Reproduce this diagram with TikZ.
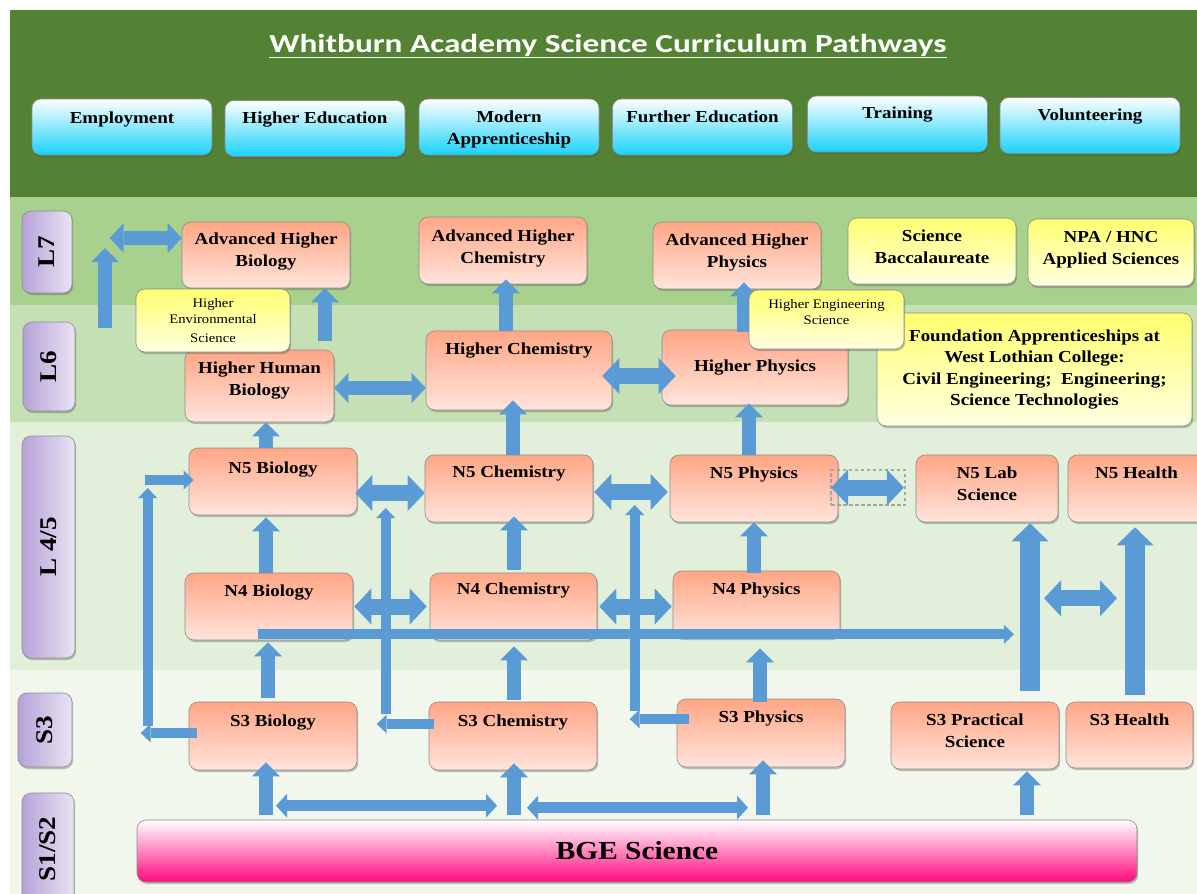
\documentclass[tikz,border=0pt]{standalone}
\usepackage{fontspec}
\usepackage{graphicx}
\setmainfont{Liberation Serif}[FakeStretch=1.13]
\newfontfamily\headfont{Carlito}[FakeStretch=1.28]
\usetikzlibrary{arrows.meta}
\usetikzlibrary{shadows}

\definecolor{hdrgreen}{HTML}{548235}
\definecolor{bandseven}{HTML}{A9D18E}
\definecolor{bandsix}{HTML}{C5E0B4}
\definecolor{bandfour}{HTML}{E2EFDA}
\definecolor{bandthree}{HTML}{F1F7ED}
\definecolor{pipeblue}{HTML}{5B9BD5}
\definecolor{crstop}{HTML}{FFA685}
\definecolor{crsbot}{HTML}{FFE4DC}
\definecolor{opttop}{HTML}{FFFF70}
\definecolor{optbot}{HTML}{FFFFE1}
\definecolor{destbot}{HTML}{19D2FA}
\definecolor{stageleft}{HTML}{B5A2D8}
\definecolor{stageright}{HTML}{E9E4F3}
\definecolor{bgepink}{HTML}{FF0A7E}

\newcommand\crsfont{\fontsize{16.8pt}{21.5pt}\selectfont\bfseries}
\newcommand\optsmallfont{\fontsize{13pt}{16pt}\selectfont}
\newcommand\stagefont{\fontsize{24pt}{28pt}\selectfont\bfseries}
\newcommand\bgefont{\fontsize{26pt}{30pt}\selectfont\bfseries}
\newcommand\pathtitlefont{\headfont\fontsize{26pt}{30pt}\selectfont\bfseries}

\tikzset{
    boxbase/.style={
        rounded corners=9pt,
        draw=black!45,
        semithick,
        align=center,
        inner sep=2pt,
        drop shadow={shadow xshift=1.2pt, shadow yshift=-2pt, opacity=.35, fill=black!70}
    },
    course/.style={
        boxbase,
        top color=crstop, bottom color=crsbot,
        font=\crsfont,
        minimum width=168pt, minimum height=67pt
    },
    option/.style={
        boxbase,
        top color=opttop, bottom color=optbot,
        font=\crsfont
    },
    dest/.style={
        boxbase,
        top color=white, bottom color=destbot,
        font=\crsfont,
        minimum width=180pt, minimum height=56pt
    },
    stage/.style={
        boxbase,
        left color=stageleft, right color=stageright,
        font=\stagefont
    },
    lift/.style={text height=12pt, text depth=#1},
    twolines/.style={text height=#1, text depth=3pt},
    pipe/.style={
        draw=pipeblue, line width=14pt,
        -{Triangle[width=28pt, length=14pt, line width=0pt]}
    },
    bigpipe/.style={
        draw=pipeblue, line width=20pt,
        -{Triangle[width=37pt, length=18pt, line width=0pt]}
    },
    thinpipe/.style={
        draw=pipeblue, line width=10pt,
        -{Triangle[width=19pt, length=10pt, line width=0pt]}
    },
    twopipe/.style={
        draw=pipeblue, line width=14pt,
        {Triangle[width=30pt, length=14pt, line width=0pt]}-{Triangle[width=30pt, length=14pt, line width=0pt]}
    },
    widepipe/.style={
        draw=pipeblue, line width=16pt,
        {Triangle[width=36pt, length=17pt, line width=0pt]}-{Triangle[width=36pt, length=17pt, line width=0pt]}
    },
    thintwopipe/.style={
        draw=pipeblue, line width=11pt,
        {Triangle[width=24pt, length=11pt, line width=0pt]}-{Triangle[width=24pt, length=11pt, line width=0pt]}
    }
}

\begin{document}
\begin{tikzpicture}[x=1pt, y=-1pt]
    \useasboundingbox (0,0) rectangle (1197,894);
    \clip (0,0) rectangle (1197,894);
    \fill[white] (0,0) rectangle (1197,894);
    \fill[hdrgreen] (10,10) rectangle (1197,197);
    \fill[bandseven] (10,197) rectangle (1197,305);
    \fill[bandsix] (10,305) rectangle (1197,422);
    \fill[bandfour] (10,422) rectangle (1197,670);
    \fill[bandthree] (10,670) rectangle (1197,894);

    \node[font=\pathtitlefont, text=white] (title) at (608,46) {\underline{Whitburn Academy Science Curriculum Pathways}};

    \node[dest, lift=20pt] (emp) at (122,127) {Employment};
    \node[dest, lift=23pt] (hed) at (315,128.5) {Higher Education};
    \node[dest, twolines=37pt] (mapp) at (509,127) {Modern\\Apprenticeship};
    \node[dest, lift=21pt] (fed) at (702.5,127) {Further Education};
    \node[dest, lift=24pt] (trn) at (897.5,124) {Training};
    \node[dest, lift=23pt] (vol) at (1090,125.5) {Volunteering};

    \node[stage, minimum width=50pt, minimum height=82pt] (lvlseven) at (47,252) {\rotatebox{90}{L7}};
    \node[stage, minimum width=52pt, minimum height=89pt] (lvlsix) at (49,366.5) {\rotatebox{90}{L6}};
    \node[stage, minimum width=53pt, minimum height=222pt] (lvlfour) at (48.5,547) {\rotatebox{90}{L 4/5}};
    \node[stage, minimum width=54pt, minimum height=74pt] (lvlthree) at (45,730) {\rotatebox{90}{S3}};
    \node[stage, minimum width=52pt, minimum height=112pt] (lvlone) at (48,849) {\rotatebox{90}{S1/S2}};

    \node[course, minimum height=66pt, twolines=25pt] (ahbio) at (266,255) {Advanced Higher\\Biology};
    \node[course, twolines=28pt] (ahchem) at (503,250.5) {Advanced Higher\\Chemistry};
    \node[course, twolines=26pt] (ahphys) at (737,255.5) {Advanced Higher\\Physics};
    \node[option, minimum width=168pt, minimum height=66pt, twolines=27pt] (bacc) at (932,251) {Science\\Baccalaureate};
    \node[option, minimum width=166pt, minimum height=67pt, twolines=26pt] (npa) at (1111,252.5) {NPA / HNC\\Applied Sciences};

    \node[course, minimum width=149pt, minimum height=72pt, twolines=21pt] (hhbio) at (259.5,386) {Higher Human\\Biology};
    \node[course, minimum width=186pt, minimum height=79pt, lift=45pt] (hchem) at (519,370.5) {Higher Chemistry};
    \node[course, minimum width=186pt, minimum height=75pt] (hphys) at (755,367.5) {Higher Physics};
    \node[option, minimum width=315pt, minimum height=113pt] (fapp) at (1034.5,369.5) {Foundation Apprenticeships at\\West Lothian College:\\Civil Engineering;~ Engineering;\\Science Technologies};
    \node[option, font=\optsmallfont, minimum width=154pt, minimum height=63pt] (hesci) at (213,320.5) {Higher\\Environmental\\[3pt]Science};

    \node[course, lift=29pt] (n5bio) at (273,481.5) {N5 Biology};
    \node[course, lift=35pt] (n5chem) at (509,488.5) {N5 Chemistry};
    \node[course, lift=33pt] (n5phys) at (754,488.5) {N5 Physics};
    \node[course, minimum width=142pt, twolines=26pt] (n5lab) at (987,488.5) {N5 Lab\\Science};
    \node[course, minimum width=137pt, lift=33pt] (n5hlth) at (1136.5,488.5) {N5 Health};
    \node[draw=black!35, line width=1.8pt, dash pattern=on 3.5pt off 2.5pt, minimum width=74pt, minimum height=35pt, inner sep=0pt] (dotbox) at (868,487.5) {};

    \node[course, lift=33pt] (n4bio) at (269,606.5) {N4 Biology};
    \node[course, minimum width=167pt, lift=37pt] (n4chem) at (513.5,606.5) {N4 Chemistry};
    \node[course, minimum width=167pt, lift=33pt] (n4phys) at (756.5,604.5) {N4 Physics};

    \node[course, minimum height=68pt, lift=32pt] (s3bio) at (273,736) {S3 Biology};
    \node[course, minimum height=68pt, lift=32pt] (s3chem) at (513,736) {S3 Chemistry};
    \node[course, minimum height=68pt, lift=34pt] (s3phys) at (761,733) {S3 Physics};
    \node[course, twolines=26pt] (s3prac) at (975,735.5) {S3 Practical\\Science};
    \node[course, minimum width=127pt, minimum height=66pt, lift=32pt] (s3hlth) at (1129.5,735) {S3 Health};

    \node[boxbase, top color=white, bottom color=bgepink, minimum width=1000pt, minimum height=62pt, font=\bgefont] (bge) at (637,851) {BGE Science};

    \coordinate (envroute) at (105,328);
    \draw[pipe] (envroute) -- ++(0,-80);
    \draw[twopipe] ([yshift=17pt]ahbio.west) -- ++(-72,0);
    \draw[pipe] ([xshift=65.5pt,yshift=9pt]hhbio.north) -- ([xshift=59pt]ahbio.south);
    \draw[pipe] ([xshift=-7pt]n5bio.north) -- ([xshift=6.5pt]hhbio.south);
    \draw[pipe] ([xshift=-13pt]hchem.north) -- ([xshift=3pt,yshift=5pt]ahchem.south);
    \draw[pipe] ([xshift=-11pt,yshift=-2pt]hphys.north) -- ([xshift=7pt,yshift=7pt]ahphys.south);
    \draw[pipe] ([xshift=4pt]n5chem.north) -- ([xshift=-6pt,yshift=10pt]hchem.south);
    \draw[pipe] ([xshift=-5pt]n5phys.north) -- ([xshift=-6pt,yshift=2pt]hphys.south);
    \draw[pipe] ([xshift=-3pt]n4bio.north) -- ([xshift=-7pt,yshift=-2pt]n5bio.south);
    \draw[pipe] ([xshift=.5pt,yshift=3pt]n4chem.north) -- ([xshift=5pt,yshift=6pt]n5chem.south);
    \draw[pipe] ([xshift=-2.5pt,yshift=-2pt]n4phys.north) -- (n5phys.south);
    \draw[pipe] ([xshift=-5pt,yshift=4pt]s3bio.north) -- ([xshift=-1pt,yshift=-2pt]n4bio.south);
    \draw[pipe] ([xshift=1pt,yshift=2pt]s3chem.north) -- ([xshift=.5pt,yshift=-6pt]n4chem.south);
    \draw[pipe] ([xshift=-1pt,yshift=-3pt]s3phys.north) -- ([xshift=3.5pt,yshift=-10pt]n4phys.south);
    \draw[pipe] ([xshift=-371pt,yshift=5pt]bge.north) -- ([xshift=-7pt,yshift=8pt]s3bio.south);
    \draw[pipe] ([xshift=-123pt,yshift=5pt]bge.north) -- ([xshift=1pt,yshift=7pt]s3chem.south);
    \draw[pipe] ([xshift=126pt,yshift=5pt]bge.north) -- ([xshift=2pt,yshift=7pt]s3phys.south);
    \draw[pipe] ([xshift=390pt,yshift=5pt]bge.north) -- ([xshift=52pt,yshift=-2pt]s3prac.south);
    \draw[bigpipe] ([xshift=55pt,yshift=11pt]s3prac.north) -- ([xshift=43pt,yshift=-1pt]n5lab.south);
    \draw[bigpipe] ([xshift=5.5pt,yshift=7pt]s3hlth.north) -- ([xshift=-1.5pt,yshift=-5pt]n5hlth.south);

    \draw[twopipe] ([yshift=-2pt]hhbio.east) -- ([yshift=-17.5pt]hchem.west);
    \draw[widepipe] ([xshift=-10pt,yshift=-5.5pt]hchem.east) -- ([xshift=14pt,yshift=-8.5pt]hphys.west);
    \draw[widepipe] ([xshift=-2pt,yshift=-11.5pt]n5bio.east) -- ([yshift=-4.5pt]n5chem.west);
    \draw[widepipe] ([xshift=1pt,yshift=-3.5pt]n5chem.east) -- ([xshift=-2pt,yshift=-3.5pt]n5phys.west);
    \draw[widepipe] ([xshift=1pt]dotbox.west) -- ([xshift=-2pt]dotbox.east);
    \draw[widepipe] ([xshift=1pt]n4bio.east) -- ([xshift=-3pt]n4chem.west);
    \draw[widepipe] ([xshift=2pt]n4chem.east) -- ([xshift=-1pt,yshift=-2pt]n4phys.west);
    \draw[widepipe] ([xshift=57pt,yshift=-76pt]n5lab.south) -- ++(73,0);
    \draw[thintwopipe] ([xshift=-361pt,yshift=14pt]bge.north) -- ++(221,0);
    \draw[thintwopipe] ([xshift=-110pt,yshift=12pt]bge.north) -- ++(221,0);

    \draw[thinpipe] ([xshift=-11pt,yshift=6pt]n4bio.south) -- ++(756,0);
    \draw[thinpipe] ([xshift=8pt,yshift=3pt]s3bio.west) -- ++(-56,0);
    \draw[thinpipe] ([xshift=-41pt,yshift=10pt]s3bio.west) -- ++(0,-238);
    \draw[thinpipe] ([xshift=-44pt,yshift=1.5pt]n5bio.west) -- ([xshift=5pt,yshift=1.5pt]n5bio.west);
    \draw[thinpipe] ([xshift=5pt,yshift=12pt]s3chem.west) -- ++(-57,0);
    \draw[thinpipe] ([xshift=-43pt,yshift=22pt]s3chem.west) -- ++(0,-206);
    \draw[thinpipe] ([xshift=12pt,yshift=14pt]s3phys.west) -- ++(-59,0);
    \draw[thinpipe] ([xshift=-42pt,yshift=22pt]s3phys.west) -- ++(0,-206);

    \node[option, font=\optsmallfont, minimum width=155pt, minimum height=59pt, text height=12pt, text depth=3pt] (hengsci) at (826.5,319.5) {Higher Engineering\\Science};
\end{tikzpicture}
\end{document}
